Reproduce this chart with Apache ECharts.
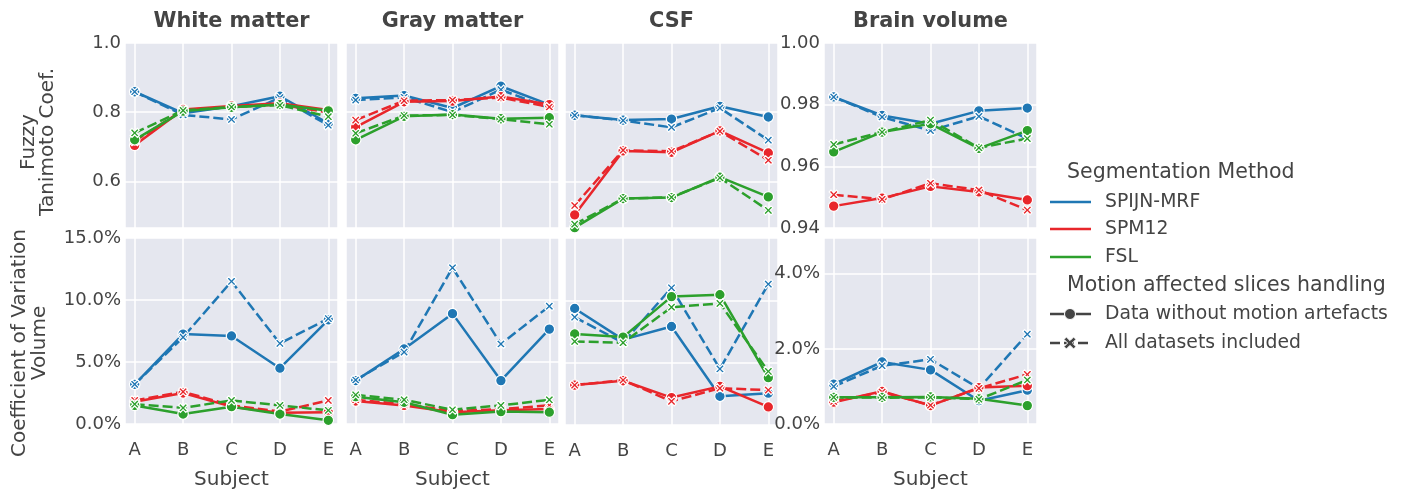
<!DOCTYPE html>
<html>
<head>
<meta charset="utf-8">
<script src="https://cdn.jsdelivr.net/npm/echarts@6/dist/echarts.min.js"></script>
<style>
  html, body { margin: 0; padding: 0; background: #fff; }
  #chart { width: 1402px; height: 491px; }
</style>
</head>
<body>
<div id="chart"></div>
<script>
// categories
const subjects = ['A', 'B', 'C', 'D', 'E'];
const methods = ['SPIJN-MRF', 'SPM12', 'FSL'];
const handling = ['Data without motion artefacts', 'All datasets included'];
const tissues = ['White matter', 'Gray matter', 'CSF', 'Brain volume'];

// rows: SPIJN clean, SPIJN all, SPM12 clean, SPM12 all, FSL clean, FSL all
const wmFuzzy = [
    [0.859, 0.797, 0.817, 0.846, 0.768],
    [0.859, 0.792, 0.779, 0.842, 0.762],
    [0.704, 0.808, 0.818, 0.826, 0.806],
    [0.716, 0.806, 0.815, 0.822, 0.799],
    [0.720, 0.803, 0.814, 0.822, 0.804],
    [0.740, 0.805, 0.815, 0.820, 0.787]
];
const gmFuzzy = [
    [0.840, 0.848, 0.812, 0.875, 0.822],
    [0.835, 0.843, 0.800, 0.865, 0.812],
    [0.757, 0.830, 0.832, 0.845, 0.822],
    [0.777, 0.833, 0.835, 0.842, 0.815],
    [0.720, 0.788, 0.793, 0.781, 0.784],
    [0.739, 0.790, 0.792, 0.780, 0.765]
];
const csfFuzzy = [
    [0.791, 0.777, 0.780, 0.817, 0.786],
    [0.791, 0.776, 0.756, 0.812, 0.719],
    [0.503, 0.688, 0.684, 0.746, 0.682],
    [0.530, 0.690, 0.687, 0.745, 0.661],
    [0.466, 0.550, 0.553, 0.612, 0.555],
    [0.476, 0.550, 0.554, 0.610, 0.516]
];
const brainFuzzy = [
    [0.9825, 0.9765, 0.9738, 0.9780, 0.9789],
    [0.9825, 0.9760, 0.9716, 0.9762, 0.9690],
    [0.9471, 0.9497, 0.9535, 0.9517, 0.9491],
    [0.9508, 0.9493, 0.9545, 0.9523, 0.9458],
    [0.9647, 0.9711, 0.9738, 0.9658, 0.9716],
    [0.9671, 0.9711, 0.9750, 0.9660, 0.9690]
];
// coefficient of variation of volume, %
const wmCov = [
    [3.2, 7.25, 7.1, 4.5, 8.4],
    [3.2, 7.0, 11.5, 6.5, 8.5],
    [1.8, 2.5, 1.4, 0.9, 0.95],
    [1.9, 2.6, 1.5, 1.0, 1.9],
    [1.5, 0.8, 1.4, 0.8, 0.3],
    [1.6, 1.3, 1.9, 1.5, 1.1]
];
const gmCov = [
    [3.5, 6.05, 8.9, 3.5, 7.65],
    [3.55, 5.8, 12.6, 6.45, 9.5],
    [1.85, 1.5, 0.95, 1.1, 1.2],
    [1.95, 1.6, 1.05, 1.2, 1.5],
    [2.2, 1.75, 0.75, 1.0, 0.95],
    [2.35, 1.95, 1.15, 1.5, 1.95]
];
const csfCov = [
    [9.35, 6.85, 7.9, 2.3, 2.55],
    [8.65, 6.6, 11.0, 4.5, 11.3],
    [3.2, 3.55, 2.2, 3.1, 1.45],
    [3.2, 3.6, 1.9, 2.95, 2.8],
    [7.3, 7.05, 10.3, 10.45, 3.8],
    [6.7, 6.6, 9.45, 9.75, 4.3]
];
const brainCov = [
    [1.06, 1.65, 1.44, 0.62, 0.9],
    [1.0, 1.55, 1.72, 0.95, 2.39],
    [0.58, 0.87, 0.49, 0.97, 1.02],
    [0.6, 0.85, 0.5, 0.95, 1.32],
    [0.71, 0.71, 0.72, 0.67, 0.49],
    [0.71, 0.7, 0.71, 0.66, 1.17]
];

const panels = [wmFuzzy, gmFuzzy, csfFuzzy, brainFuzzy, wmCov, gmCov, csfCov, brainCov];

const colors = ['#1f77b4', '#e8262b', '#2ca02c'];
const textColor = '#444';
const font = 'DejaVu Sans';
const tickSize = 18;
const labelSize = 20;
const xMark = 'path://M0,2L2,0L5,3L8,0L10,2L7,5L10,8L8,10L5,7L2,10L0,8L3,5Z';

const colLeft = [125, 346, 565, 824];
const colWidth = 213;
const rowTop = [43, 238];
const rowHeight = [185, 187];

const chart = echarts.init(document.getElementById('chart'));

const grids = [], xAxes = [], yAxes = [], series = [];

for (let r = 0; r < 2; r++) {
    for (let c = 0; c < 4; c++) {
        const g = r * 4 + c;
        grids.push({
            left: colLeft[c], top: rowTop[r], width: colWidth, height: rowHeight[r],
            show: true, backgroundColor: '#e5e7ef', borderWidth: 0
        });
        const bottom = r === 1;
        xAxes.push({
            gridIndex: g, type: 'value', min: -0.2, max: 4.2, splitNumber: 4,
            axisLine: { show: false }, axisTick: { show: false },
            splitLine: { lineStyle: { color: '#fff', width: 1.5 } },
            axisLabel: {
                show: bottom, color: textColor, fontSize: tickSize, fontFamily: font, margin: 17,
                formatter: v => Math.abs(v - Math.round(v)) < 1e-6 ? (subjects[Math.round(v)] || '') : ''
            },
            name: bottom && c !== 2 ? 'Subject' : '',
            nameLocation: 'middle', nameGap: 46,
            nameTextStyle: { color: textColor, fontSize: labelSize, fontFamily: font }
        });
        let y;
        if (r === 0 && c < 3) {
            y = { min: 0.465, max: 1.0, splitNumber: 3, fmt: v => v.toFixed(1) };
        } else if (r === 0) {
            y = { min: 0.94, max: 1.0, splitNumber: 3, fmt: v => v.toFixed(2) };
        } else if (c < 3) {
            y = { min: 0, max: 15, interval: 5, fmt: v => v.toFixed(1) + '%' };
        } else {
            y = { min: 0, max: 4.95, interval: 2, fmt: v => v.toFixed(1) + '%' };
        }
        yAxes.push({
            gridIndex: g, type: 'value', min: y.min, max: y.max,
            splitNumber: y.splitNumber, interval: y.interval,
            axisLine: { show: false }, axisTick: { show: false },
            splitLine: { lineStyle: { color: '#fff', width: 1.5 } },
            axisLabel: {
                show: c === 0 || c === 3, color: textColor, fontSize: tickSize, fontFamily: font, margin: 4,
                showMinLabel: r === 1 || c === 3, showMaxLabel: !(r === 1 && c === 3),
                formatter: y.fmt
            }
        });

        panels[g].forEach((vals, k) => {
            const m = Math.floor(k / 2), h = k % 2;
            series.push({
                type: 'line', xAxisIndex: g, yAxisIndex: g,
                name: methods[m] + ' / ' + handling[h],
                data: vals.map((v, i) => [i, v]),
                symbol: h === 0 ? 'circle' : xMark,
                symbolSize: h === 0 ? 10.5 : 9,
                showAllSymbol: true,
                lineStyle: { color: colors[m], width: 2.5, type: h === 0 ? 'solid' : [10, 4] },
                itemStyle: { color: colors[m], borderColor: '#fff', borderWidth: 1.2 },
                emphasis: { disabled: true },
                animation: false
            });
        });
    }
}

// titles, row labels and legend
const graphics = [];
tissues.forEach((t, c) => {
    graphics.push({
        type: 'text', x: colLeft[c] + colWidth / 2, y: 22,
        style: { text: t, fill: textColor, font: 'bold 20.8px "DejaVu Sans"', textAlign: 'center', textVerticalAlign: 'middle' }
    });
});
graphics.push({
    type: 'text', x: 38, y: 142, rotation: Math.PI / 2,
    style: { text: 'Fuzzy\nTanimoto Coef.', fill: textColor, font: labelSize + 'px "DejaVu Sans"', lineHeight: 19, textAlign: 'center', textVerticalAlign: 'middle' }
});
graphics.push({
    type: 'text', x: 30, y: 343, rotation: Math.PI / 2,
    style: { text: 'Coefficient of Variation\nVolume', fill: textColor, font: labelSize + 'px "DejaVu Sans"', lineHeight: 20, textAlign: 'center', textVerticalAlign: 'middle' }
});

const legText = (text, x, y, size) => ({
    type: 'text', x: x, y: y,
    style: { text: text, fill: textColor, font: size + 'px "DejaVu Sans"', textAlign: 'left', textVerticalAlign: 'middle' }
});
graphics.push(legText('Segmentation Method', 1067, 173, 20.5));
const methodY = [202, 229, 257];
methods.forEach((m, i) => {
    graphics.push({ type: 'line', shape: { x1: 1050, y1: methodY[i], x2: 1091, y2: methodY[i] }, style: { stroke: colors[i], lineWidth: 2.5 } });
    graphics.push(legText(m, 1105, methodY[i], 18.8));
});
graphics.push(legText('Motion affected slices handling', 1067, 286, 20.5));
graphics.push({ type: 'line', shape: { x1: 1050, y1: 314, x2: 1091, y2: 314 }, style: { stroke: textColor, lineWidth: 2.5 } });
graphics.push({ type: 'circle', shape: { cx: 1070, cy: 314, r: 5.5 }, style: { fill: textColor, stroke: '#fff', lineWidth: 1 } });
graphics.push(legText(handling[0], 1105, 314, 18.8));
graphics.push({ type: 'line', shape: { x1: 1050, y1: 343, x2: 1091, y2: 343 }, style: { stroke: textColor, lineWidth: 2.5, lineDash: [10, 4] } });
graphics.push({
    type: 'polygon', x: 1064, y: 337,
    shape: { points: [[0, 2.4], [2.4, 0], [6, 3.6], [9.6, 0], [12, 2.4], [8.4, 6], [12, 9.6], [9.6, 12], [6, 8.4], [2.4, 12], [0, 9.6], [3.6, 6]] },
    style: { fill: textColor, stroke: '#fff', lineWidth: 1 }
});
graphics.push(legText(handling[1], 1105, 343, 18.8));

chart.setOption({
    animation: false,
    textStyle: { fontFamily: font },
    grid: grids,
    xAxis: xAxes,
    yAxis: yAxes,
    series: series,
    graphic: graphics
});
</script>
</body>
</html>
